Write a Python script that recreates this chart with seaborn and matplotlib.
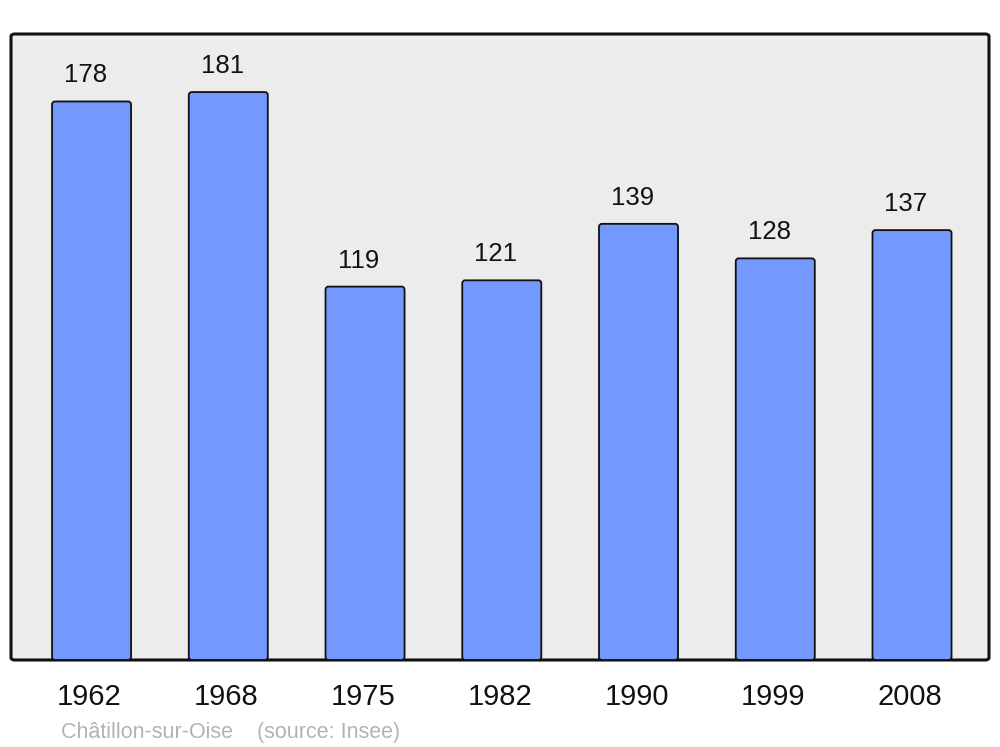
import matplotlib
matplotlib.use("Agg")
import matplotlib.pyplot as plt
import matplotlib.transforms as mtransforms
from matplotlib.patches import FancyBboxPatch
import seaborn as sns
import pandas as pd

years = ["1962", "1968", "1975", "1982", "1990", "1999", "2008"]
population = [178, 181, 119, 121, 139, 128, 137]
footer = "Châtillon-sur-Oise    (source: Insee)"

sns.set_style("white")
plt.rcParams["font.family"] = ["Liberation Sans", "DejaVu Sans"]

df = pd.DataFrame({"year": years, "pop": population})

fig = plt.figure(figsize=(10, 7.47), dpi=100)
ax = fig.add_axes([0.011, 1 - 660 / 747, 0.978, (660 - 34) / 747])

ax.patch.set_visible(False)
bg = FancyBboxPatch((0, 0), 1, 1, boxstyle="round,pad=0,rounding_size=0.004",
                    transform=ax.transAxes, facecolor="#ececec", edgecolor="#111111",
                    linewidth=2.2, zorder=0, clip_on=False)
ax.add_patch(bg)

sns.barplot(data=df, x="year", y="pop", order=years, color="#7399ff",
            saturation=1, width=0.578, edgecolor="#111111", linewidth=1.3, ax=ax, zorder=2)

xmin, xmax, ymin, ymax = -0.589, 6.563, 0, 199.5
ax.set_xlim(xmin, xmax)
ax.set_ylim(ymin, ymax)

# rounded bar corners (derived from seaborn's bars)
ax_w_px = 978.0
ax_h_px = 626.0
x_per_px = (xmax - xmin) / ax_w_px
y_per_px = (ymax - ymin) / ax_h_px
bars = [p for p in ax.patches if p is not bg]
for p in bars:
    x0, y0 = p.get_x(), p.get_y()
    w, h = p.get_width(), p.get_height()
    rb = FancyBboxPatch((x0, y0), w, h,
                        boxstyle=f"round,pad=0,rounding_size={3 * x_per_px}",
                        mutation_aspect=y_per_px / x_per_px,
                        facecolor=p.get_facecolor(), edgecolor="#111111",
                        linewidth=1.3, zorder=2)
    p.set_visible(False)
    ax.add_patch(rb)

for i, v in enumerate(population):
    ax.annotate(str(v), (i, v), xytext=(-4.3, 13.7), textcoords="offset points",
                ha="center", va="baseline", fontsize=18.5, color="#111111")

ax.set_xlabel("")
ax.set_ylabel("")
ax.set_yticks([])
ax.tick_params(axis="x", length=0, pad=16.5, labelsize=21, labelcolor="#111111")
offset = mtransforms.ScaledTranslation(-2 / 100, 0, fig.dpi_scale_trans)
for lbl in ax.get_xticklabels():
    lbl.set_transform(lbl.get_transform() + offset)
for s in ax.spines.values():
    s.set_visible(False)

fig.text(0.061, 1 - 738 / 747, footer, fontsize=15.5, color="#b3b3b3", va="baseline", ha="left")

fig.savefig("out.png", dpi=100, facecolor="white")
